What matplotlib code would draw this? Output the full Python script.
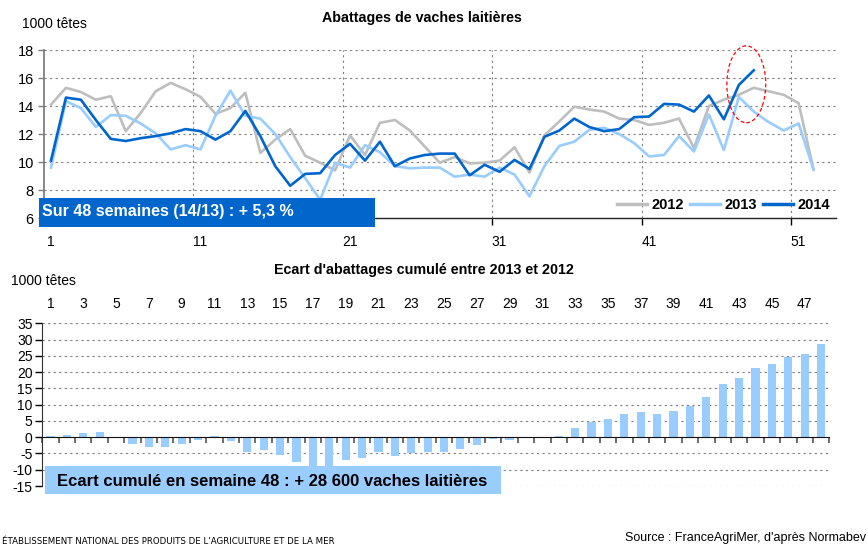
import numpy as np
import matplotlib.pyplot as plt
from matplotlib.patches import Rectangle, Ellipse

plt.rcParams['font.family'] = ['Liberation Sans', 'DejaVu Sans']
plt.rcParams['axes.unicode_minus'] = False

# weekly slaughter of dairy cows (1000 head)
weeks = np.arange(1, 53)
v2012 = [14.1, 15.3, 15.0, 14.45, 14.7, 12.2, 13.5, 15.05, 15.65, 15.2,
         14.65, 13.45, 13.85, 14.95, 10.65, 11.6, 12.35, 10.45, 9.95, 9.4,
         11.9, 10.5, 12.8, 13.0, 12.25, 11.1, 9.95, 10.35, 9.9, 9.95,
         10.1, 11.05, 9.25, 11.9, 12.9, 13.95, 13.75, 13.6, 13.1, 13.0,
         12.65, 12.8, 13.1, 11.0, 14.0, 14.45, 14.8, 15.3, 15.05, 14.8,
         14.2, 9.45]
v2013 = [9.6, 14.35, 13.85, 12.5, 13.35, 13.3, 12.75, 12.05, 10.9, 11.2,
         10.9, 13.3, 15.1, 13.3, 13.1, 12.0, 10.35, 8.85, 7.3, 9.95,
         9.6, 11.2, 10.7, 9.7, 9.55, 9.6, 9.6, 8.95, 9.1, 8.95,
         9.6, 9.1, 7.55, 9.7, 11.15, 11.45, 12.3, 12.45, 12.0, 11.35,
         10.4, 10.5, 11.85, 10.75, 13.4, 10.85, 14.65, 13.6, 12.85, 12.25,
         12.75, 9.45]
v2014 = [10.1, 14.6, 14.45, 13.0, 11.65, 11.5, 11.7, 11.85, 12.05, 12.35,
         12.2, 11.6, 12.2, 13.65, 11.85, 9.7, 8.3, 9.15, 9.2, 10.5,
         11.3, 10.1, 11.45, 9.7, 10.25, 10.5, 10.6, 10.6, 9.05, 9.8,
         9.3, 10.15, 9.5, 11.8, 12.25, 13.1, 12.5, 12.2, 12.35, 13.2,
         13.25, 14.15, 14.1, 13.6, 14.75, 13.05, 15.5, 16.55]

# cumulative gap (1000 head), weeks 1-48
gap_weeks = np.arange(1, 49)
gap = [0.4, 0.7, 1.3, 1.6, 0.0, -2.0, -3.0, -3.0, -2.0, -0.8,
       0.4, -1.3, -4.5, -3.9, -5.4, -7.5, -9.5, -9.3, -7.0, -6.3,
       -4.4, -5.9, -4.8, -4.7, -4.4, -3.5, -2.3, -0.7, -1.0, 0.0,
       -0.4, 0.4, 2.7, 4.8, 5.7, 7.2, 7.6, 7.2, 7.9, 9.7,
       12.5, 16.2, 18.3, 21.3, 22.6, 24.7, 25.6, 28.6]

grey = '#BEBEBE'
light = '#99CCFF'
dark = '#0066CC'
grid_kw = dict(color='#7F7F7F', linestyle=(0, (2, 3)), linewidth=0.8)

W, H = 868, 545
fig = plt.figure(figsize=(W / 100, H / 100), dpi=100)

# ---------------- top chart ----------------
ax1 = fig.add_axes([43.5 / W, 1 - 218 / H, (836 - 43.5) / W, 168 / H])
ax1.plot(weeks, v2012, color=grey, lw=1.9, label='2012')
ax1.plot(weeks, v2013, color=light, lw=1.9, label='2013')
ax1.plot(np.arange(1, len(v2014) + 1), v2014, color=dark, lw=1.9, label='2014')

ax1.set_xlim(0.5, 53.5)
ax1.set_ylim(6, 18)
ax1.set_yticks(np.arange(6, 19, 2))
for y in range(8, 19, 2):
    ax1.axhline(y, zorder=0, **grid_kw)
bounds = [10.5, 20.5, 30.5, 40.5, 50.5]
for x in bounds:
    ax1.axvline(x, zorder=0, **grid_kw)
ax1.set_xticks(bounds)
ax1.set_xticklabels([])
ax1.set_xticks([1, 11, 21, 31, 41, 51], minor=True)
ax1.set_xticklabels(['1', '11', '21', '31', '41', '51'], minor=True)
ax1.tick_params(axis='x', which='major', length=5, width=1, direction='out')
ax1.tick_params(axis='x', which='minor', length=0, pad=12, labelsize=10)
ax1.tick_params(axis='y', length=4, width=1, color='#7F7F7F', labelsize=10.5, pad=3)
for s in ['top', 'right']:
    ax1.spines[s].set_visible(False)
ax1.spines['left'].set_color('#7F7F7F')
ax1.spines['left'].set_linewidth(1.3)
ax1.spines['bottom'].set_color('#222222')
ax1.spines['bottom'].set_linewidth(1.0)

leg = ax1.legend(loc='center right', bbox_to_anchor=(1.002, 0.075), ncol=3,
                 frameon=False, handlelength=2.05, handletextpad=0.3,
                 columnspacing=0.45, borderpad=0,
                 prop={'weight': 'bold', 'size': 10.5})
for line in leg.get_lines():
    line.set_linewidth(2.5)

ax1.add_patch(Ellipse((47.5, 15.55), 2.6, 5.5, fill=False, edgecolor='#FF0000',
                      linestyle=(0, (3, 2)), linewidth=0.9, clip_on=False, zorder=5))

ax1.add_patch(Rectangle((-0.0057, -0.0536), 0.424, 0.1726, transform=ax1.transAxes,
                        facecolor=dark, edgecolor='none', clip_on=False, zorder=6))
ax1.text(-0.0015, -0.0536 + 0.1726 / 2 + 0.005, 'Sur 48 semaines (14/13) : + 5,3 %',
         transform=ax1.transAxes, color='white', fontsize=11.5, fontweight='bold',
         ha='left', va='center', zorder=7)

fig.text(422 / W, 1 - 18 / H, 'Abattages de vaches laitières', ha='center', va='center',
         fontsize=10.3, fontweight='bold')
fig.text(22 / W, 1 - 24 / H, '1000 têtes', ha='left', va='center', fontsize=10)

# ---------------- bottom chart ----------------
ax2 = fig.add_axes([42.3 / W, 1 - 486 / H, (829.3 - 42.3) / W, (486 - 323.3) / H])
ax2.bar(gap_weeks, gap, width=0.5, color=light, zorder=2)
ax2.set_xlim(0.5, 48.5)
ax2.set_ylim(-15, 35)
ax2.set_yticks(np.arange(-15, 36, 5))
for y in range(-15, 36, 5):
    if y != 0:
        ax2.axhline(y, zorder=0, **grid_kw)
ax2.spines['bottom'].set_position(('data', 0))
ax2.spines['bottom'].set_color('#111111')
ax2.spines['bottom'].set_zorder(3)
for s in ['top', 'right']:
    ax2.spines[s].set_visible(False)
ax2.spines['left'].set_color('#333333')
ax2.set_xticks(np.arange(0.5, 49, 1))
ax2.set_xticks(np.arange(1, 48, 2), minor=True)
ax2.set_xticklabels([str(k) for k in range(1, 48, 2)], minor=True)
ax2.tick_params(axis='x', which='major', length=4, width=1.2, color='#555555',
                labelbottom=False, bottom=True, top=False)
ax2.tick_params(axis='x', which='minor', length=0, labelbottom=False, labeltop=True,
                bottom=False, top=False, pad=9, labelsize=10)
ax2.tick_params(axis='y', length=5, width=1, labelsize=10, pad=2)

box = Rectangle((45 / W, 1 - 494.3 / H), 455.7 / W, 28.6 / H, transform=fig.transFigure,
                facecolor=light, edgecolor='none', clip_on=False, zorder=6)
ax2.add_patch(box)
ax2.text(272 / W, 1 - 481.5 / H, 'Ecart cumulé en semaine 48 : + 28 600 vaches laitières',
         transform=fig.transFigure, ha='center', va='center', fontsize=12,
         fontweight='bold', zorder=7)

fig.text(424 / W, 1 - 270 / H, "Ecart d'abattages cumulé entre 2013 et 2012",
         ha='center', va='center', fontsize=10.3, fontweight='bold')
fig.text(11 / W, 1 - 281 / H, '1000 têtes', ha='left', va='center', fontsize=10)

fig.text(2 / W, 1 - 541 / H,
         "ÉTABLISSEMENT NATIONAL DES PRODUITS DE L'AGRICULTURE ET DE LA MER",
         ha='left', va='center', fontsize=6.2,
         family=['Liberation Sans Narrow', 'DejaVu Sans Condensed', 'DejaVu Sans'])
fig.text(866 / W, 1 - 538 / H, "Source : FranceAgriMer, d'après Normabev",
         ha='right', va='center', fontsize=9)

fig.savefig('out.png', dpi=100)
